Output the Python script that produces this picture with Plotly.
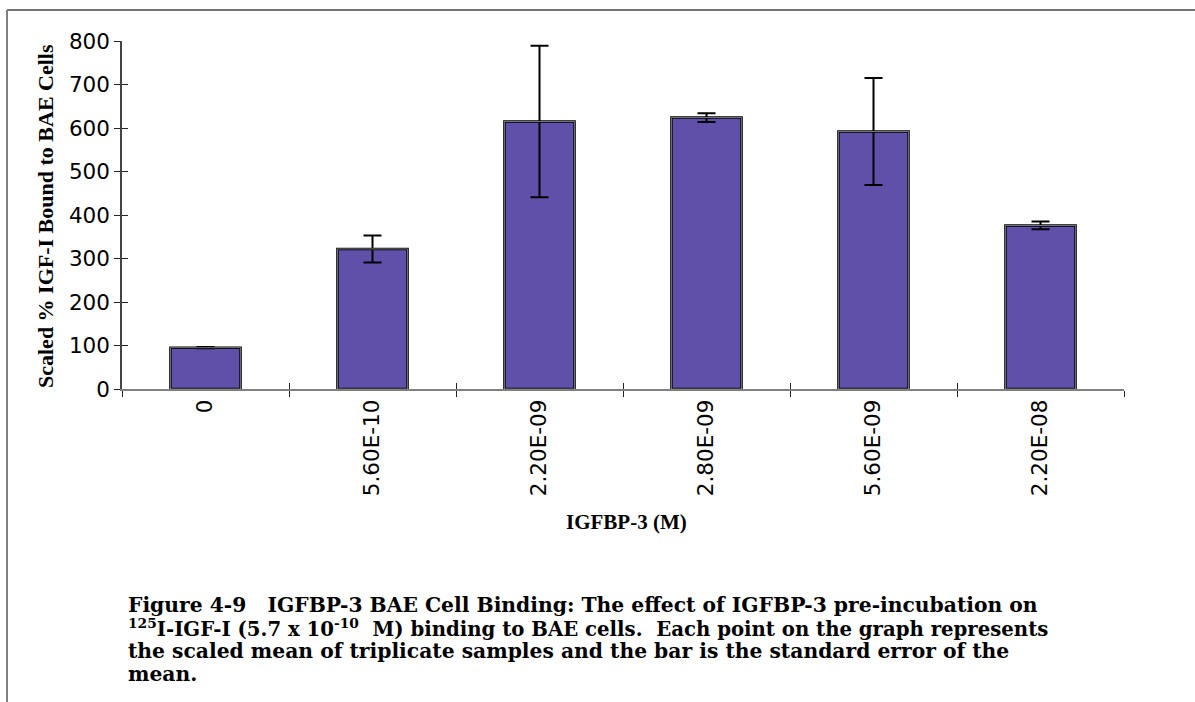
import plotly.graph_objects as go

# ---- data ----
concentrations = ["0", "5.60E-10", "2.20E-09", "2.80E-09", "5.60E-09", "2.20E-08"]
scaled_binding = [95, 322, 615, 624, 592, 376]
sem = [1.5, 31, 174, 10, 123, 9]
y_ticks = [0, 100, 200, 300, 400, 500, 600, 700, 800]
caption_lines = [
    "Figure 4-9\u00a0\u00a0\u00a0IGFBP-3 BAE Cell Binding: The effect of IGFBP-3 pre-incubation on",
    "<sup>125</sup>I-IGF-I (5.7 x 10<sup>-10</sup>\u00a0 M) binding to BAE cells.\u00a0 Each point on the graph represents",
    "the scaled mean of triplicate samples and the bar is the standard error of the",
    "mean.",
]

W, H = 1195, 702
L, R, T, B = 122, 71, 41, 313
PW, PH = W - L - R, H - T - B


def px(x):
    return (x - L) / PW


def py(y):
    return (H - B - y) / PH


bar_color = "#6150A9"

fig = go.Figure()
fig.add_trace(go.Bar(
    x=concentrations, y=scaled_binding,
    marker=dict(color=bar_color, line=dict(color="black", width=2.5)),
    error_y=dict(type="data", array=sem, visible=True, color="black",
                 thickness=2, width=9),
    width=0.42, showlegend=False, hoverinfo="x+y",
))
# invisible twin trace so the overlay axes (inner half of the cross ticks) render
fig.add_trace(go.Bar(
    x=concentrations, y=scaled_binding, xaxis="x2", yaxis="y2",
    marker=dict(color="rgba(0,0,0,0)"), width=0.42,
    showlegend=False, hoverinfo="skip",
))

tickfont = dict(family="DejaVu Sans", size=21.5, color="black")
fig.update_layout(
    width=W, height=H,
    margin=dict(l=L, r=R, t=T, b=B, autoexpand=False),
    paper_bgcolor="white", plot_bgcolor="white",
    xaxis=dict(
        type="category", tickson="boundaries", ticks="outside", ticklen=6,
        tickwidth=1.3, tickcolor="#222", tickangle=-90, tickfont=tickfont,
        showline=True, linecolor="#808080", linewidth=2, showgrid=False,
        zeroline=False, automargin=False,
    ),
    yaxis=dict(
        range=[0, 800], tickvals=y_ticks, ticks="outside", ticklen=6,
        tickwidth=1.3, tickcolor="#222", tickfont=tickfont,
        showline=True, linecolor="#444", linewidth=1.5, showgrid=False,
        zeroline=False, automargin=False,
    ),
    xaxis2=dict(
        type="category", overlaying="x", tickson="boundaries", ticks="inside",
        ticklen=6, tickwidth=1.3, tickcolor="#222", showticklabels=False,
        showline=False, showgrid=False, zeroline=False, matches="x",
    ),
    yaxis2=dict(
        overlaying="y", range=[0, 800], tickvals=y_ticks, ticks="inside",
        ticklen=6, tickwidth=1.3, tickcolor="#222", showticklabels=False,
        showline=False, showgrid=False, zeroline=False,
    ),
    bargap=0.58,
)

annotations = [
    dict(text="<b>Scaled % IGF-I Bound to BAE Cells</b>", textangle=-90,
         xref="paper", yref="paper", x=px(45), y=py(216),
         xanchor="center", yanchor="middle", showarrow=False,
         font=dict(family="Liberation Serif", size=22, color="black")),
    dict(text="<b>IGFBP-3 (M)</b>", xref="paper", yref="paper",
         x=px(626), y=py(522), xanchor="center", yanchor="middle",
         showarrow=False,
         font=dict(family="Liberation Serif", size=21, color="black")),
]
line_centers = [605, 628, 651, 674]
line_sizes = [20.3, 19.7, 20.3, 20.3]
for text, yc, fs in zip(caption_lines, line_centers, line_sizes):
    annotations.append(dict(
        text="<b>" + text + "</b>", xref="paper", yref="paper",
        x=px(126), y=py(yc), xanchor="left", yanchor="middle", align="left",
        showarrow=False,
        font=dict(family="DejaVu Serif", size=fs, color="black"),
    ))
fig.update_layout(annotations=annotations)

fig.update_layout(shapes=[
    dict(type="line", xref="paper", yref="paper", x0=px(7), x1=px(W + 5),
         y0=py(10), y1=py(10), line=dict(color="#444", width=1.5)),
    dict(type="line", xref="paper", yref="paper", x0=px(7), x1=px(7),
         y0=py(10), y1=py(H + 5), line=dict(color="#808080", width=2)),
])

fig.write_html("out.html")
